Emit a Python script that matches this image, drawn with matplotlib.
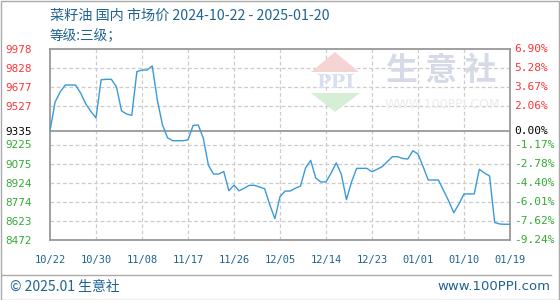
import matplotlib
matplotlib.use('Agg')
import matplotlib.pyplot as plt
import matplotlib.transforms as mtransforms
from matplotlib.patches import Polygon, Rectangle
from matplotlib.lines import Line2D

plt.rcParams['font.family'] = ['Noto Sans CJK SC', 'DejaVu Sans']

# daily price, 2024-10-22 .. 2025-01-20 (day index 0..90)
prices = [
  9335, 9560, 9640, 9694, 9694, 9694, 9630, 9545, 9485, 9435,
  9735, 9739, 9739, 9680, 9490, 9465, 9455, 9800, 9812, 9812,
  9845, 9576, 9380, 9278, 9255, 9255, 9255, 9262, 9375, 9379,
  9274, 9060, 8992, 8992, 9012, 8860, 8905, 8860, 8880, 8903,
  8903, 8890, 8876, 8750, 8640, 8814, 8858, 8858, 8880, 8897,
  9040, 9100, 8960, 8930, 8930, 9000, 9080, 8990, 8790, 8930,
  9037, 9037, 9037, 9010, 9030, 9050, 9090, 9129, 9129, 9115,
  9110, 9176, 9150, 9050, 8945, 8945, 8945, 8862, 8780, 8687,
  8755, 8835, 8835, 8835, 9030, 9000, 8977, 8610, 8598, 8596,
  8596]
days = list(range(len(prices)))

base = 9335
yticks = [9978, 9828, 9677, 9527, 9335, 9225, 9075, 8924, 8774, 8623, 8472]
pct_labels = ['6.90%', '5.28%', '3.67%', '2.06%', '0.00%', '-1.17%',
              '-2.78%', '-4.40%', '-6.01%', '-7.62%', '-9.24%']
xticks = [0, 9, 18, 27, 36, 45, 54, 63, 72, 81, 90]
xlabels = ['10/22', '10/30', '11/08', '11/17', '11/26', '12/05',
           '12/14', '12/23', '01/01', '01/10', '01/19']

title = '菜籽油 国内 市场价 2024-10-22 - 2025-01-20'
subtitle = '等级:三级；'

red = '#ff3333'
green = '#33aa33'
blue_txt = '#1f6391'

fig = plt.figure(figsize=(5.6, 3.0), dpi=100)
ax = fig.add_axes([50/560, 60/300, 460/560, 191/300])

# watermark
fig.patches.append(Polygon([[311/560, 1-72/300], [335/560, 1-52/300], [359/560, 1-72/300]],
                           closed=True, transform=fig.transFigure, fc='#f6d4d4', ec='none', zorder=0))
fig.patches.append(Polygon([[311/560, 1-93/300], [335/560, 1-112/300], [360/560, 1-93/300]],
                           closed=True, transform=fig.transFigure, fc='#d6eed6', ec='none', zorder=0))
fig.text(335/560, 1-83/300, 'PPI', fontsize=14, color='#d8e0f0', ha='center', va='center',
         family='DejaVu Serif', fontweight='bold', zorder=0)
fig.text(386/560, 1-71/300, '生 意 社', fontsize=23, color='#d6dae6', ha='left', va='center',
         fontweight='bold', zorder=0)
fig.text(385/560, 1-105/300, 'WWW.100PPI.COM', fontsize=9, color='#ebebeb', ha='left', va='center',
         family='DejaVu Sans', zorder=0)
ax.set_facecolor('none')

ax.plot(days, prices, color='#3a9ad9', lw=1.0, zorder=3)

ax.set_xlim(0, 90)
ax.set_ylim(8472, 9978)

# grid
for v in yticks[1:-1]:
  if v == base:
    ax.axhline(v, color='#999999', lw=1.3, zorder=2)
  else:
    ax.axhline(v, color='#cccccc', lw=0.9, ls=(0, (3, 2)), zorder=1)
for d in xticks[1:-1]:
  ax.axvline(d, color='#cccccc', lw=0.9, ls=(0, (3, 2)), zorder=1)

for s in ax.spines.values():
  s.set_color('#999999')
  s.set_linewidth(1.3)

ax.set_yticks(yticks)
ax.set_yticklabels([str(v) for v in yticks])
ax.tick_params(axis='y', length=0, pad=32)
for lab, v in zip(ax.get_yticklabels(), yticks):
  lab.set_horizontalalignment('left')
  lab.set_family('DejaVu Sans')
  lab.set_fontsize(7.5)
  lab.set_color(red if v > base else ('black' if v == base else green))

ax.set_xticks(xticks)
ax.set_xticklabels(xlabels, family='DejaVu Sans Mono', fontsize=7.5, color=blue_txt)
ax.tick_params(axis='x', length=0, pad=11)

trans = mtransforms.blended_transform_factory(ax.transAxes, ax.transData)
for v, lab in zip(yticks, pct_labels):
  c = red if v > base else ('black' if v == base else green)
  ax.text(1 + 4/460, v, lab, transform=trans, ha='left', va='center',
          family='DejaVu Sans Mono', fontsize=8, color=c)

fig.text(50/560, 1-16/300, title, fontsize=10.2, color=blue_txt, ha='left', va='center')
fig.text(50/560, 1-36/300, subtitle, fontsize=9.8, color=blue_txt, ha='left', va='center')

# footer
fig.lines.append(Line2D([2/560, 551/560], [1-275/300, 1-275/300], transform=fig.transFigure,
                        color='#aaaaaa', lw=1.0))
fig.text(10/560, 1-287/300, '© 2025.01 生意社', fontsize=10, color=blue_txt, ha='left', va='center')
fig.text(550/560, 1-287/300, 'www.100PPI.com', fontsize=9.5, color=blue_txt, ha='right', va='center',
         family='DejaVu Sans')
fig.patches.append(Rectangle((0.5/560, 0.5/300), 558/560, 298.5/300, transform=fig.transFigure,
                             fill=False, ec='#aaaaaa', lw=1.0))

fig.savefig('out.png', dpi=100)
